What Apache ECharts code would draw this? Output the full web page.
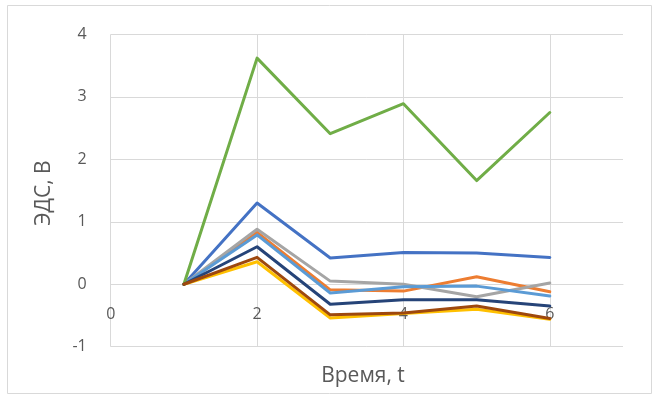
<!DOCTYPE html>
<html>
<head>
<meta charset="utf-8">
<script src="https://cdn.jsdelivr.net/npm/echarts@6/dist/echarts.min.js"></script>
<style>
  html, body { margin: 0; padding: 0; background: #fff; }
  #chart { width: 653px; height: 396px; }
</style>
</head>
<body>
<div id="chart"></div>
<script>
// Time points, t
const times = [1, 2, 3, 4, 5, 6];

// EMF values (V) for each measurement run
const run1 = [0, 1.30, 0.42, 0.51, 0.50, 0.43];
const run2 = [0, 0.83, -0.09, -0.11, 0.12, -0.12];
const run3 = [0, 0.88, 0.05, 0.00, -0.20, 0.02];
const run4 = [0, 0.36, -0.54, -0.47, -0.40, -0.56];
const run5 = [0, 0.79, -0.14, -0.04, -0.03, -0.19];
const run6 = [0, 3.62, 2.41, 2.89, 1.66, 2.75];
const run7 = [0, 0.60, -0.32, -0.25, -0.25, -0.35];
const run8 = [0, 0.43, -0.49, -0.46, -0.35, -0.55];

const runs = [run1, run2, run3, run4, run5, run6, run7, run8];
const colors = ['#4472C4', '#ED7D31', '#A5A5A5', '#FFC000', '#5B9BD5', '#70AD47', '#264478', '#9E480E'];

const xTitle = 'Время, t';
const yTitle = 'ЭДС, В';

const font = '"Open Sans", "Noto Sans", sans-serif';
const gridColor = '#d9d9d9';
const textColor = '#595959';

const W = 653, H = 396;
const grid = { left: 110.7, right: 30, top: 34.4, bottom: 49.3 };
const yMin = -1, yMax = 4;
// lift the horizontal axis from the bottom edge up to the y = 0 line
const plotH = H - grid.top - grid.bottom;
const zeroOffset = -plotH * (0 - yMin) / (yMax - yMin);

const chart = echarts.init(document.getElementById('chart'), null, { renderer: 'canvas' });

chart.setOption({
  animation: false,
  backgroundColor: '#fff',
  grid: Object.assign({ containLabel: false }, grid),
  xAxis: {
    type: 'value',
    min: 0,
    max: 7,
    interval: 2,
    position: 'bottom',
    offset: zeroOffset,
    axisLine: { show: true, onZero: false, lineStyle: { color: gridColor, width: 1 } },
    axisTick: { show: false },
    axisLabel: { show: true, margin: 22, showMaxLabel: false, color: textColor, fontSize: 16, fontFamily: font },
    splitLine: { show: true, showMaxLine: false, lineStyle: { color: gridColor, width: 1 } }
  },
  yAxis: {
    type: 'value',
    min: yMin,
    max: yMax,
    interval: 1,
    axisLine: { show: false, onZero: false },
    axisTick: { show: false },
    axisLabel: { margin: 24, color: textColor, fontSize: 16, fontFamily: font },
    splitLine: { show: true, lineStyle: { color: gridColor, width: 1 } }
  },
  series: runs.map((vals, i) => ({
    type: 'line',
    data: times.map((t, k) => [t, vals[k]]),
    showSymbol: false,
    symbol: 'none',
    lineStyle: { color: colors[i], width: 3, join: 'round', cap: 'round' },
    itemStyle: { color: colors[i] },
    z: 2 + i
  })),
  graphic: [
    {
      type: 'rect',
      shape: { x: 7.5, y: 5.5, width: 644, height: 388 },
      style: { fill: 'none', stroke: gridColor, lineWidth: 1 },
      silent: true,
      z: -1
    },
    {
      type: 'text',
      x: 363,
      y: 376,
      style: {
        text: xTitle,
        fill: textColor,
        font: '21px ' + font,
        textAlign: 'center',
        textVerticalAlign: 'middle'
      }
    },
    {
      type: 'text',
      x: 44,
      y: 193,
      rotation: Math.PI / 2,
      style: {
        text: yTitle,
        fill: textColor,
        font: '21px ' + font,
        textAlign: 'center',
        textVerticalAlign: 'middle'
      }
    }
  ]
});
</script>
</body>
</html>
